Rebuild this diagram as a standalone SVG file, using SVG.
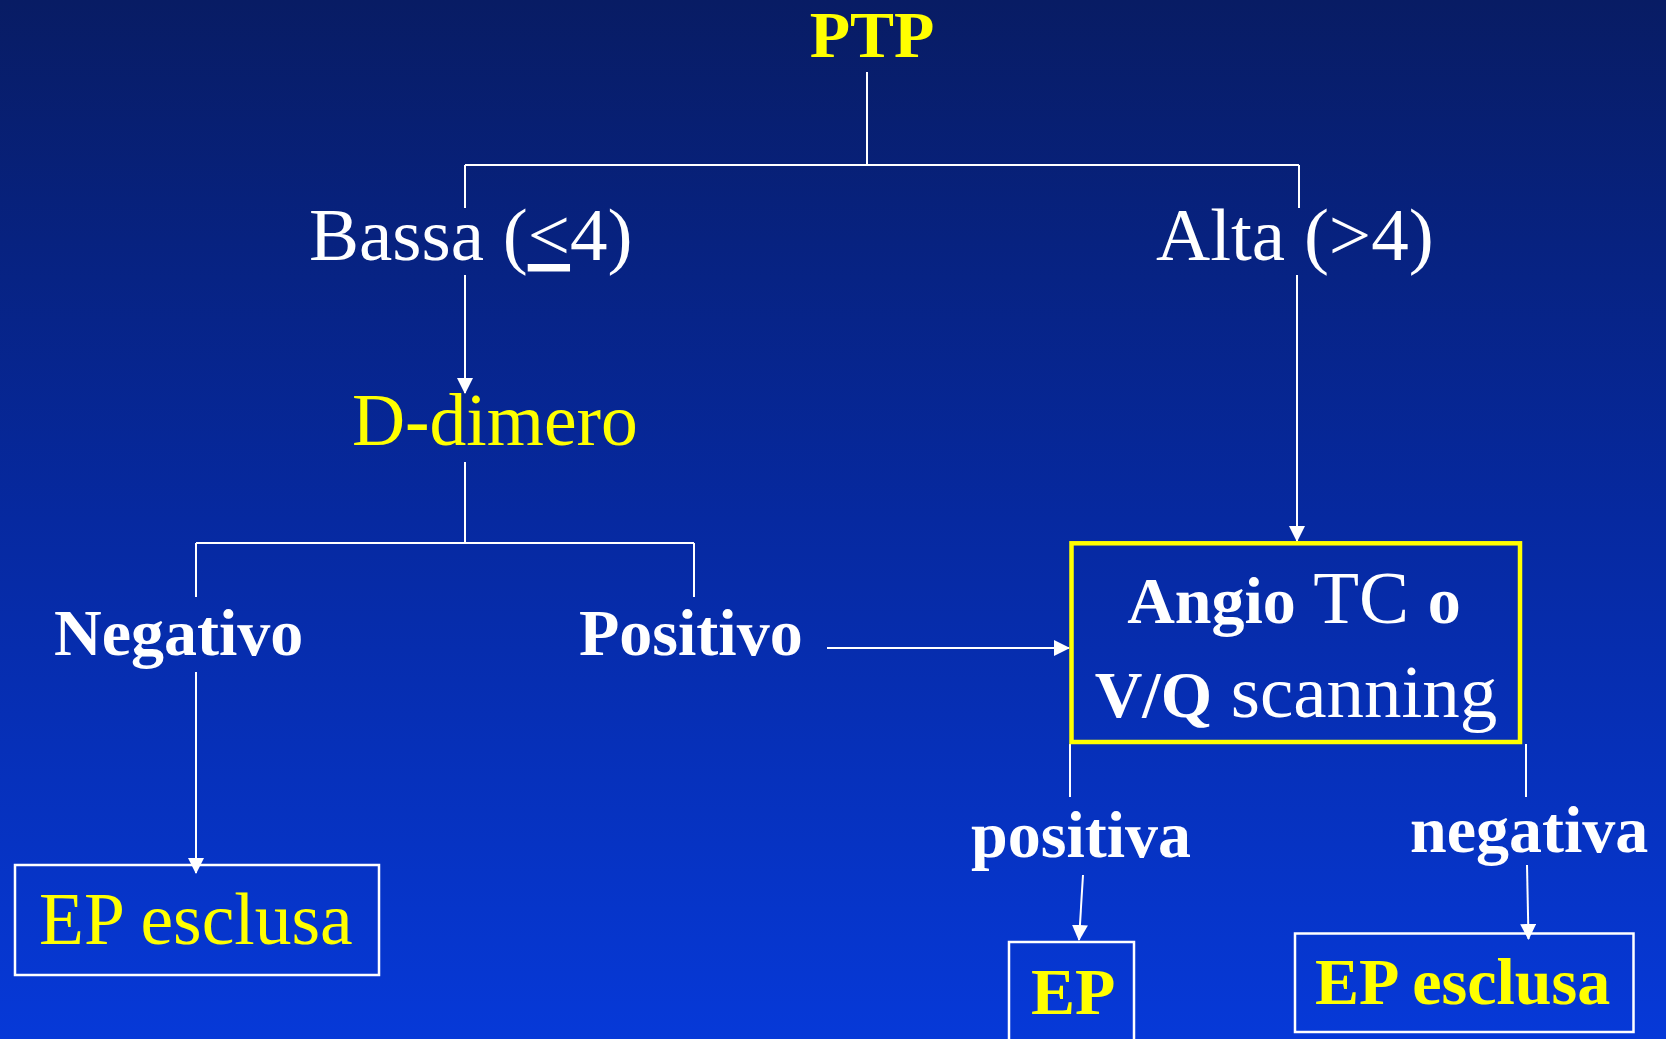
<svg xmlns="http://www.w3.org/2000/svg" width="1666" height="1039" viewBox="0 0 1666 1039">
  <defs>
    <linearGradient id="bg" x1="0" y1="0" x2="0" y2="1">
      <stop offset="0" stop-color="#081c64"/>
      <stop offset="0.5" stop-color="#0629a0"/>
      <stop offset="1" stop-color="#0639d8"/>
    </linearGradient>
    <marker id="arr" markerUnits="userSpaceOnUse" markerWidth="16" markerHeight="16" refX="15" refY="8" orient="auto">
      <path d="M0,0 L16,8 L0,16 Z" fill="#ffffff"/>
    </marker>
    <style>
      .t { font-family: "Liberation Serif", "Times New Roman", serif; }
      .reg { font-size: 75px; font-weight: normal; }
      .reg74 { font-size: 73.5px; font-weight: normal; }
      .bold { font-size: 66px; font-weight: bold; }
      .w { fill: #ffffff; }
      .y { fill: #ffff00; }
      .conn path { stroke: #ffffff; stroke-width: 2; fill: none; }
      .box { fill: none; stroke: #ffffff; stroke-width: 2.5; }
      .ybox { fill: none; stroke: #ffff00; stroke-width: 4.5; }
    </style>
  </defs>
  <rect x="0" y="0" width="1666" height="1039" fill="url(#bg)"/>

  <g id="connectors" class="conn">
    <path d="M867 72 V165"/>
    <path d="M465 165 H1299"/>
    <path d="M465 165 V208"/>
    <path d="M1299 165 V208"/>
    <path d="M465 275 V393" marker-end="url(#arr)"/>
    <path d="M1297 275 V541" marker-end="url(#arr)"/>
    <path d="M465 462 V543"/>
    <path d="M196 543 H694"/>
    <path d="M196 543 V597"/>
    <path d="M694 543 V597"/>
    <path d="M196 672 V873" marker-end="url(#arr)"/>
    <path d="M827 648 H1069" marker-end="url(#arr)"/>
    <path d="M1070 744 V797"/>
    <path d="M1526 744 V797"/>
    <path d="M1083 875 L1079 940" marker-end="url(#arr)"/>
    <path d="M1527 865 L1528.5 939" marker-end="url(#arr)"/>
  </g>

  <g id="node-ptp">
    <text class="t bold y" x="872" y="57" text-anchor="middle">PTP</text>
  </g>
  <g id="node-bassa">
    <text class="t reg w" x="309" y="260">Bassa (<tspan text-decoration="underline">&lt;</tspan>4)</text>
  </g>
  <g id="node-alta">
    <text class="t reg w" x="1156" y="260">Alta (&gt;4)</text>
  </g>
  <g id="node-ddimero">
    <text class="t reg74 y" x="352" y="445">D-dimero</text>
  </g>
  <g id="node-negativo">
    <text class="t bold w" x="54" y="655">Negativo</text>
  </g>
  <g id="node-positivo">
    <text class="t bold w" x="579" y="655">Positivo</text>
  </g>
  <g id="node-angio">
    <rect class="ybox" x="1071.5" y="543.3" width="448.5" height="198.7"/>
    <text class="t w" x="1294" y="623" text-anchor="middle"><tspan class="bold">Angio</tspan><tspan class="reg"> TC </tspan><tspan class="bold">o</tspan></text>
    <text class="t w" x="1296" y="717" text-anchor="middle"><tspan class="bold">V/Q</tspan><tspan class="reg"> scanning</tspan></text>
  </g>
  <g id="node-positiva">
    <text class="t bold w" x="971" y="857">positiva</text>
  </g>
  <g id="node-negativa">
    <text class="t bold w" x="1410" y="852">negativa</text>
  </g>
  <g id="node-ep-esclusa-left">
    <rect class="box" x="15" y="865" width="364" height="110"/>
    <text class="t reg74 y" x="39" y="944">EP esclusa</text>
  </g>
  <g id="node-ep">
    <rect class="box" x="1009" y="942" width="125" height="110"/>
    <text class="t bold y" x="1031" y="1014">EP</text>
  </g>
  <g id="node-ep-esclusa-right">
    <rect class="box" x="1295" y="933.5" width="338.5" height="98.5"/>
    <text class="t bold y" x="1315" y="1004">EP esclusa</text>
  </g>
</svg>
